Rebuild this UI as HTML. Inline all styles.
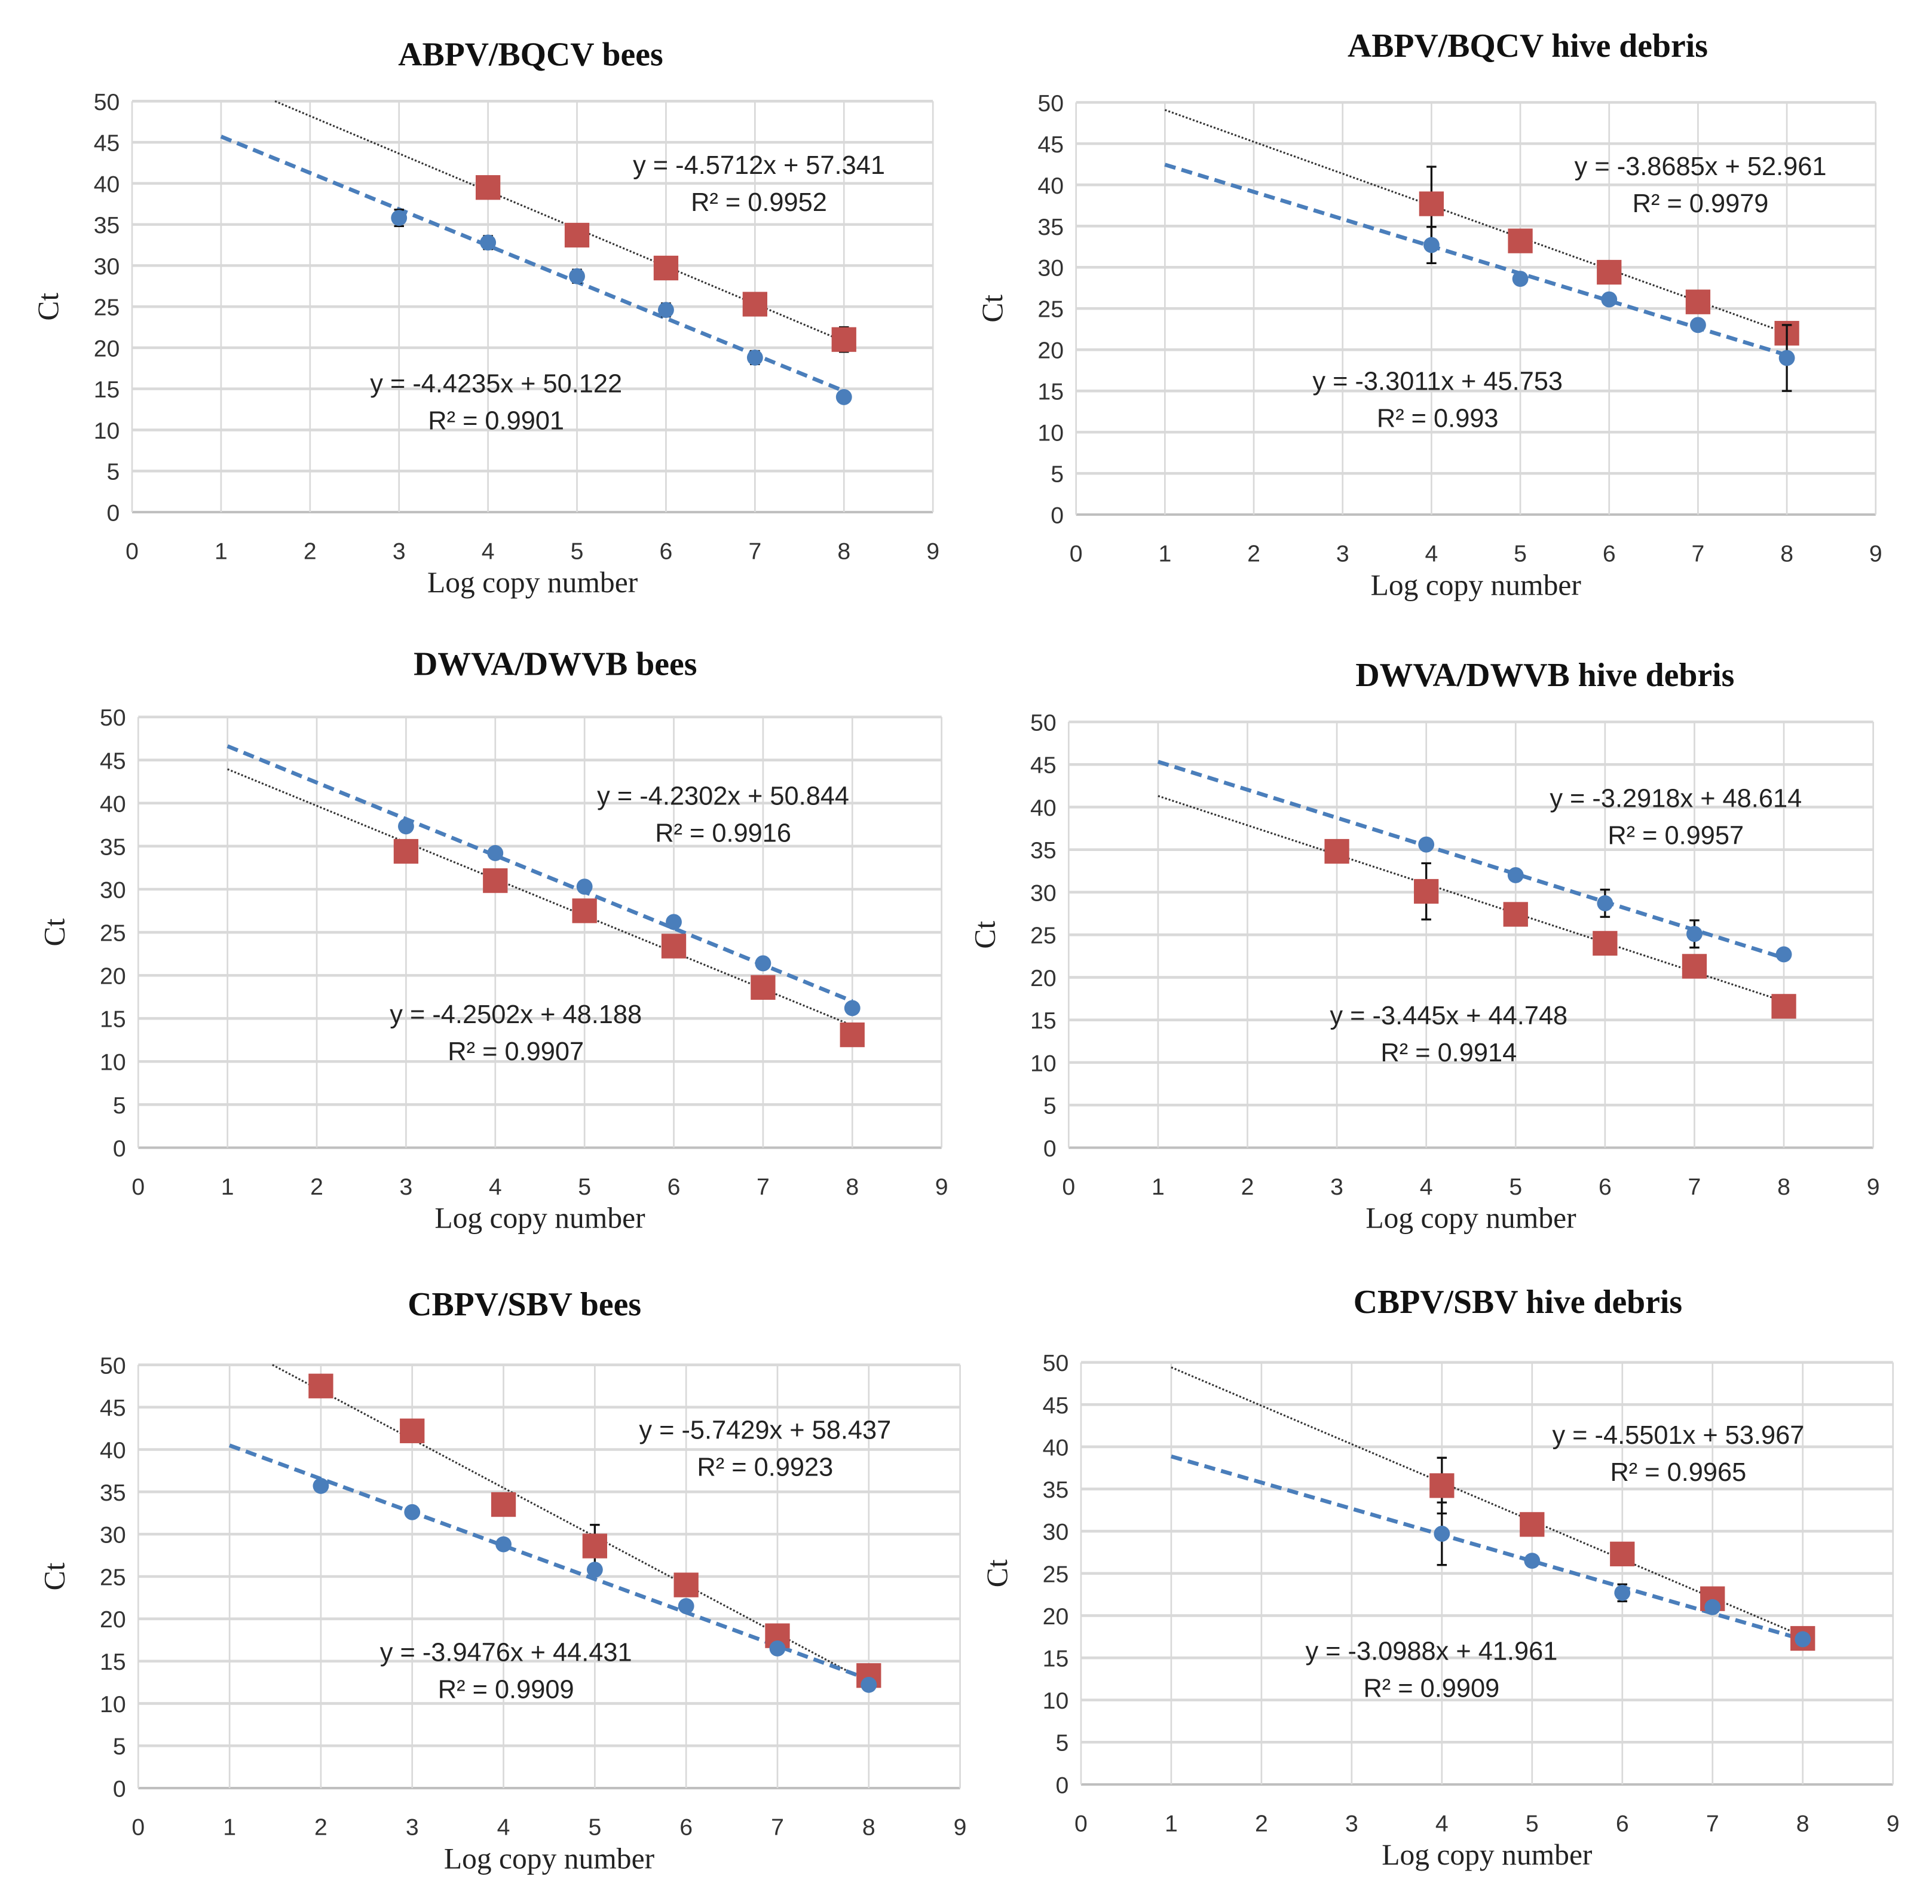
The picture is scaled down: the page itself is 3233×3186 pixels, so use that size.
<!DOCTYPE html>
<html><head><meta charset="utf-8"><style>
html,body{margin:0;padding:0;background:#fff;}
svg{display:block;}
</style></head><body>
<svg id="fig" width="3233" height="3186" viewBox="0 0 1565.6 1542.9" xmlns="http://www.w3.org/2000/svg"></svg>
<script>
// ---- data (per panel) ----
const titles = ["ABPV/BQCV bees","ABPV/BQCV hive debris","DWVA/DWVB bees","DWVA/DWVB hive debris","CBPV/SBV bees","CBPV/SBV hive debris"];
const xTicks = [0,1,2,3,4,5,6,7,8,9];
const yTicks = [0,5,10,15,20,25,30,35,40,45,50];
const blueX = [[3,4,5,6,7,8],[4,5,6,7,8],[3,4,5,6,7,8],[4,5,6,7,8],[2,3,4,5,6,7,8],[4,5,6,7,8]];
const blueY = [[35.8,32.8,28.7,24.6,18.8,14],[32.7,28.6,26.1,23,19],[37.3,34.2,30.3,26.2,21.4,16.2],[35.6,32,28.7,25.1,22.7],[35.7,32.6,28.8,25.8,21.5,16.5,12.2],[29.7,26.5,22.7,21,17.2]];
const blueErr = [[1,0.8,0.8,0.8,0.8,0.5],[2.2,0.5,0.5,0.5,4],[0.3,0.3,0.3,0.3,0.3,0.3],[0.3,0.3,1.6,1.6,0.3],[0.3,0.3,0.3,0.3,0.3,0.3,0.3],[3.7,0.3,1,0.5,0.3]];
const redX = [[4,5,6,7,8],[4,5,6,7,8],[3,4,5,6,7,8],[3,4,5,6,7,8],[2,3,4,5,6,7,8],[4,5,6,7,8]];
const redY = [[39.5,33.7,29.7,25.3,21],[37.7,33.2,29.4,25.8,22],[34.4,31,27.5,23.4,18.6,13.1],[34.8,30.1,27.4,24,21.3,16.6],[47.5,42.2,33.5,28.6,24,18,13.3],[35.4,30.8,27.3,22,17.3]];
const redErr = [[0.5,0.5,0.5,0.5,1.5],[4.5,0.5,0.5,0.5,0.5],[0.3,0.3,0.3,0.3,0.3,0.3],[0.3,3.3,0.3,0.3,0.3,0.3],[0.5,1,0.5,2.5,0.5,0.5,0.5],[3.3,0.3,0.3,0.3,0.3]];
const blueSlope = [-4.4235,-3.3011,-4.2302,-3.2918,-3.9476,-3.0988];
const blueInt = [50.122,45.753,50.844,48.614,44.431,41.961];
const blueR2 = ["0.9901","0.993","0.9916","0.9957","0.9909","0.9909"];
const redSlope = [-4.5712,-3.8685,-4.2502,-3.445,-5.7429,-4.5501];
const redInt = [57.341,52.961,48.188,44.748,58.437,53.967];
const redR2 = ["0.9952","0.9979","0.9907","0.9914","0.9923","0.9965"];
const blueEqLabel = ["y = -4.4235x + 50.122","y = -3.3011x + 45.753","y = -4.2302x + 50.844","y = -3.2918x + 48.614","y = -3.9476x + 44.431","y = -3.0988x + 41.961"];
const redEqLabel = ["y = -4.5712x + 57.341","y = -3.8685x + 52.961","y = -4.2502x + 48.188","y = -3.445x + 44.748","y = -5.7429x + 58.437","y = -4.5501x + 53.967"];

// ---- layout (display units) ----
const layout = [
 {l:107,r:756,t:82,b:415,tx:430,ty:53,blueEq:[402,318],redEq:[615,141]},
 {l:872,r:1520,t:83,b:417,tx:1238,ty:46,blueEq:[1165,316],redEq:[1378,142]},
 {l:112,r:763,t:581,b:930,tx:450,ty:547,blueEq:[586,652],redEq:[418,829]},
 {l:866,r:1518,t:585,b:930,tx:1252,ty:556,blueEq:[1358,654],redEq:[1174,830]},
 {l:112,r:778,t:1106,b:1449,tx:425,ty:1066,blueEq:[410,1346],redEq:[620,1166]},
 {l:876,r:1534,t:1104,b:1446,tx:1230,ty:1064,blueEq:[1160,1345],redEq:[1360,1170]}
];
const NS="http://www.w3.org/2000/svg";
const svg=document.getElementById('fig');
function mk(tag,attrs,parent){const e=document.createElementNS(NS,tag);for(const k in attrs)e.setAttribute(k,attrs[k]);(parent||svg).appendChild(e);return e;}
const BLUE="#4a7ebb", RED="#c0504d";
layout.forEach((L,i)=>{
  const g=mk('g',{});
  
  
  const sx=v=>L.l+(v-0)/9*(L.r-L.l);
  const sy=v=>L.b-(v/50)*(L.b-L.t);
  const t=mk('text',{x:L.tx,y:L.ty,'text-anchor':'middle','font-family':'Liberation Serif, serif','font-weight':'bold','font-size':27,fill:'#111'},g);
  t.textContent=titles[i];
  
  
  yTicks.forEach(v=>{
    const ln=mk('line',{x1:L.l,x2:L.r,y1:sy(v),y2:sy(v),stroke:v===0?'#bfbfbf':'#d9d9d9','stroke-width':v===0?2:2.2},g);
    
    
    const tl=mk('text',{x:L.l-10,y:sy(v)+7,'text-anchor':'end','font-family':'Liberation Sans, sans-serif','font-size':19,fill:'#333'},g);
    tl.textContent=v;
    
    
  });
  xTicks.forEach(v=>{
    const ln=mk('line',{x1:sx(v),x2:sx(v),y1:L.t,y2:L.b,stroke:'#d9d9d9','stroke-width':1.3},g);
    
    
    const tl=mk('text',{x:sx(v),y:L.b+38,'text-anchor':'middle','font-family':'Liberation Sans, sans-serif','font-size':19,fill:'#333'},g);
    tl.textContent=v;
    
    
  });
  const xt=mk('text',{x:(L.l+L.r)/2,y:L.b+65,'text-anchor':'middle','font-family':'Liberation Serif, serif','font-size':24,fill:'#222'},g);
  xt.textContent='Log copy number';
  
  
  const cy=(L.t+L.b)/2, cx=L.l-60;
  const yt=mk('text',{x:cx,y:cy,'text-anchor':'middle','font-family':'Liberation Serif, serif','font-size':24,fill:'#222',transform:`rotate(-90 ${cx} ${cy})`},g);
  yt.textContent='Ct';
  
  
  // trendlines
  function trend(m,b,color,dash,w,name){
    let x1=1; if(m*1+b>50) x1=(50-b)/m;
    const ln=mk('line',{x1:sx(x1),y1:sy(m*x1+b),x2:sx(8),y2:sy(m*8+b),stroke:color,'stroke-width':w,'stroke-dasharray':dash},g);
    
    
  }
  trend(redSlope[i],redInt[i],'#333','1.5 1.5',1.5,'red-series-trendline');
  trend(blueSlope[i],blueInt[i],BLUE,'9 5',3.2,'blue-series-trendline');
  function err(x,y,e,name){
    const ln=mk('path',{d:`M${sx(x)},${sy(y+e)}V${sy(y-e)}M${sx(x)-4},${sy(y+e)}h8M${sx(x)-4},${sy(y-e)}h8`,stroke:'#111','stroke-width':1.6,fill:'none'},g);
    
    
  }
  redX[i].forEach((x,j)=>{
    err(x,redY[i][j],redErr[i][j],'red-error-bar');
    const r=mk('rect',{x:sx(x)-10,y:sy(redY[i][j])-10,width:20,height:20,fill:RED},g);
    
    
  });
  blueX[i].forEach((x,j)=>{
    err(x,blueY[i][j],blueErr[i][j],'blue-error-bar');
    const c=mk('circle',{cx:sx(x),cy:sy(blueY[i][j]),r:6.5,fill:BLUE},g);
    
    
  });
  function eq(pos,label,r2,name){
    const a=mk('text',{x:pos[0],y:pos[1],'text-anchor':'middle','font-family':'Liberation Sans, sans-serif','font-size':21,fill:'#222'},g);
    a.textContent=label;
    
    
    const b=mk('text',{x:pos[0],y:pos[1]+30,'text-anchor':'middle','font-family':'Liberation Sans, sans-serif','font-size':21,fill:'#222'},g);
    b.textContent='R² = '+r2;
    
    
  }
  eq(L.blueEq,blueEqLabel[i],blueR2[i],'blue');
  eq(L.redEq,redEqLabel[i],redR2[i],'red');
});
</script>
</body></html>
